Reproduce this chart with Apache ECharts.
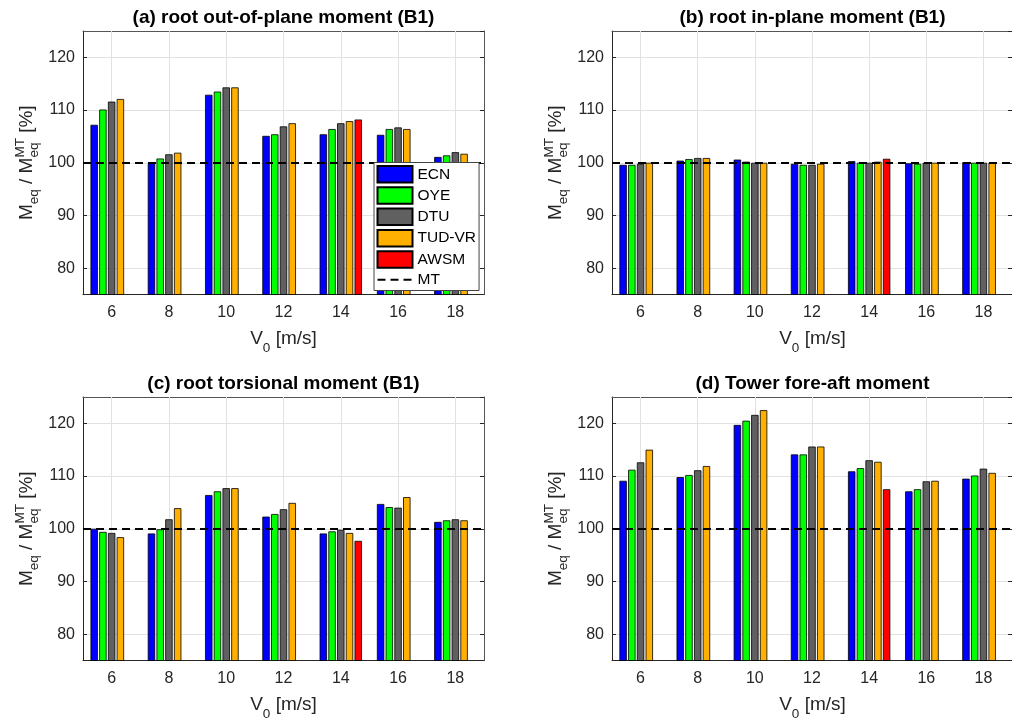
<!DOCTYPE html>
<html>
<head>
<meta charset="utf-8">
<script src="https://cdn.jsdelivr.net/npm/echarts@6/dist/echarts.min.js"></script>
<style>
html,body{margin:0;padding:0;background:#fff;}
#chart{width:1012px;height:724px;}
</style>
</head>
<body>
<div id="chart"></div>
<script>
// ---------- data ----------
const categories = ['6', '8', '10', '12', '14', '16', '18'];
const seriesNames = ['ECN', 'OYE', 'DTU', 'TUD-VR', 'AWSM'];
const refName = 'MT';
const refValue = 100;
const panelTitles = [
  '(a) root out-of-plane moment (B1)',
  '(b) root in-plane moment (B1)',
  '(c) root torsional moment (B1)',
  '(d) Tower fore-aft moment'
];

// (a) root out-of-plane moment
const oop_ECN  = [107.2, 99.9, 112.9, 105.1, 105.4, 105.3, 101.1];
const oop_OYE  = [110.1, 100.8, 113.5, 105.4, 106.4, 106.4, 101.4];
const oop_DTU  = [111.6, 101.6, 114.3, 106.9, 107.5, 106.7, 102.0];
const oop_TUD  = [112.1, 101.9, 114.3, 107.5, 107.9, 106.4, 101.7];
const oop_AWSM = [null, null, null, null, 108.2, null, null];

// (b) root in-plane moment
const ip_ECN  = [99.6, 100.4, 100.6, 99.8, 100.3, 99.9, 100.1];
const ip_OYE  = [99.6, 100.7, 100.2, 99.6, 100.0, 99.8, 100.0];
const ip_DTU  = [99.8, 100.9, 100.0, 99.6, 100.0, 100.0, 100.0];
const ip_TUD  = [100.0, 100.9, 100.0, 99.8, 100.2, 100.0, 100.0];
const ip_AWSM = [null, null, null, null, 100.75, null, null];

// (c) root torsional moment
const tor_ECN  = [100.0, 99.1, 106.4, 102.3, 99.1, 104.7, 101.3];
const tor_OYE  = [99.4, 99.9, 107.1, 102.8, 99.5, 104.1, 101.6];
const tor_DTU  = [99.2, 101.8, 107.7, 103.7, 99.8, 104.0, 101.8];
const tor_TUD  = [98.4, 103.9, 107.7, 104.9, 99.2, 106.0, 101.6];
const tor_AWSM = [null, null, null, null, 97.7, null, null];

// (d) tower fore-aft moment
const tfa_ECN  = [109.1, 109.8, 119.7, 114.1, 110.9, 107.1, 109.5];
const tfa_OYE  = [111.2, 110.2, 120.5, 114.1, 111.5, 107.5, 110.1];
const tfa_DTU  = [112.6, 111.1, 121.6, 115.6, 113.0, 109.0, 111.4];
const tfa_TUD  = [115.0, 111.9, 122.5, 115.6, 112.7, 109.1, 110.6];
const tfa_AWSM = [null, null, null, null, 107.5, null, null];

const panelData = [
  [oop_ECN, oop_OYE, oop_DTU, oop_TUD, oop_AWSM],
  [ip_ECN, ip_OYE, ip_DTU, ip_TUD, ip_AWSM],
  [tor_ECN, tor_OYE, tor_DTU, tor_TUD, tor_AWSM],
  [tfa_ECN, tfa_OYE, tfa_DTU, tfa_TUD, tfa_AWSM]
];

// ---------- style / layout ----------
const FONT = '"Liberation Sans", Arial, Helvetica, sans-serif';
const colors = ['#0000FF', '#00FF00', '#606060', '#FFB000', '#FF0000'];
const axisColor = '#262626';
const gridColor = '#e2e2e2';
const grids = [
  { left: 83,  top: 31,  width: 401, height: 263.5 },
  { left: 612, top: 31,  width: 401, height: 263.5 },
  { left: 83,  top: 397, width: 401, height: 263.5 },
  { left: 612, top: 397, width: 401, height: 263.5 }
];

const mctx = document.createElement('canvas').getContext('2d');
function measure(t, fs) { mctx.font = fs + 'px ' + FONT; return mctx.measureText(t).width; }

function buildLabel(parts, gx, gy, rotation) {
  const pieces = [];
  let x = 0;
  parts.forEach(p => {
    if (p.stack) {
      let w = 0;
      p.stack.forEach(s => { pieces.push({ t: s.t, fs: s.fs, dy: s.dy || 0, x }); w = Math.max(w, measure(s.t, s.fs)); });
      x += w;
    } else {
      pieces.push({ t: p.t, fs: p.fs, dy: p.dy || 0, x });
      x += measure(p.t, p.fs);
    }
  });
  const total = x;
  return {
    type: 'group', x: gx, y: gy, rotation: rotation, silent: true,
    children: pieces.map(pc => ({
      type: 'text',
      x: pc.x - total / 2,
      y: pc.dy - 0.35 * pc.fs,
      style: { text: pc.t, font: pc.fs + 'px ' + FONT, fill: axisColor, align: 'left', verticalAlign: 'middle' }
    }))
  };
}

const LF = 19, SF = 13.5;
const xLabelParts = [{ t: 'V', fs: LF }, { t: '0', fs: SF, dy: 7.5 }, { t: ' [m/s]', fs: LF }];
const yLabelParts = [
  { t: 'M', fs: LF }, { t: 'eq', fs: SF, dy: 6 }, { t: ' / M', fs: LF },
  { stack: [{ t: 'eq', fs: SF, dy: 6 }, { t: 'MT', fs: SF, dy: -8 }] },
  { t: ' [%]', fs: LF }
];

const option = {
  animation: false,
  backgroundColor: '#ffffff',
  textStyle: { fontFamily: FONT },
  title: [], grid: grids, xAxis: [], yAxis: [], series: [], graphic: []
};

grids.forEach((g, p) => {
  const cx = g.left + g.width / 2;
  option.title.push({
    text: panelTitles[p], left: cx, top: g.top - 23, textAlign: 'center', padding: 0,
    textStyle: { fontSize: 19, fontWeight: 'bold', color: '#000', fontFamily: FONT }
  });
  const tickStyle = { show: true, inside: true, length: 4, lineStyle: { color: axisColor, width: 1 } };
  option.xAxis.push({
    type: 'category', gridIndex: p, data: categories, position: 'bottom',
    axisLine: { show: true, lineStyle: { color: axisColor, width: 1 } },
    axisTick: Object.assign({ alignWithLabel: true }, tickStyle),
    axisLabel: { fontSize: 16, color: axisColor, margin: 10, fontFamily: FONT },
    splitLine: { show: false }
  });
  option.xAxis.push({
    type: 'category', gridIndex: p, data: categories, position: 'top',
    axisLine: { show: true, lineStyle: { color: '#555', width: 1 } },
    axisTick: Object.assign({ alignWithLabel: true }, tickStyle),
    axisLabel: { show: false }, splitLine: { show: false }
  });
  const yCommon = { type: 'value', gridIndex: p, min: 75, max: 125, splitNumber: 5 };
  option.yAxis.push(Object.assign({}, yCommon, {
    position: 'left',
    axisLine: { show: true, lineStyle: { color: axisColor, width: 1 } },
    axisTick: tickStyle,
    axisLabel: {
      fontSize: 16, color: axisColor, margin: 8, fontFamily: FONT,
      showMinLabel: false, showMaxLabel: false,
      formatter: v => (v % 10 === 0 ? String(v) : '')
    },
    splitLine: { show: true, lineStyle: { color: gridColor, width: 1 } }
  }));
  option.yAxis.push(Object.assign({}, yCommon, {
    position: 'right',
    axisLine: { show: true, lineStyle: { color: '#555', width: 1 } },
    axisTick: tickStyle,
    axisLabel: { show: false }, splitLine: { show: false }
  }));

  // vertical grid lines at category centres
  option.series.push({
    type: 'line', name: '_grid', xAxisIndex: 2 * p, yAxisIndex: 2 * p, z: 1,
    data: categories.map(() => null), symbol: 'none', silent: true,
    markLine: {
      silent: true, symbol: 'none', z: 1, animation: false,
      label: { show: false },
      lineStyle: { color: gridColor, width: 1, type: 'solid' },
      emphasis: { disabled: true },
      data: categories.map(c => ({ xAxis: c }))
    }
  });

  panelData[p].forEach((vals, i) => {
    option.series.push({
      type: 'bar', name: seriesNames[i], xAxisIndex: 2 * p, yAxisIndex: 2 * p,
      data: vals, barWidth: 7.4, barGap: '18%', z: 2, silent: true,
      itemStyle: { color: colors[i], borderColor: '#000', borderWidth: 0.8 }
    });
  });

  option.series.push({
    type: 'line', name: refName, xAxisIndex: 2 * p, yAxisIndex: 2 * p, z: 5,
    data: categories.map(() => null), symbol: 'none', silent: true,
    lineStyle: { color: '#000', width: 2, type: [8, 5] },
    itemStyle: { color: '#000' },
    markLine: {
      silent: true, symbol: 'none', z: 5, animation: false,
      label: { show: false },
      lineStyle: { color: '#000', width: 2, type: [8, 5] },
      emphasis: { disabled: true },
      data: [{ yAxis: refValue }]
    }
  });

  option.graphic.push(buildLabel(xLabelParts, cx, g.top + g.height + 51, 0));
  option.graphic.push(buildLabel(yLabelParts, g.left - 50, g.top + g.height / 2, Math.PI / 2));
});

// dashed-line legend icon (box 35 x 16.5 kept by tiny corner marks)
const dashIcon = 'path://M0,0L0.01,0L0.01,0.01Z M35,16.5L34.99,16.5L34.99,16.49Z ' +
  'M0,7.25H8V9.25H0Z M13,7.25H21V9.25H13Z M26,7.25H34V9.25H26Z';

option.legend = {
  data: seriesNames.map(n => ({ name: n, icon: 'rect' })).concat([{ name: refName, icon: dashIcon, itemStyle: { color: '#000', borderWidth: 0 } }]),
  orient: 'vertical', left: 374, top: 162.5,
  padding: [2.5, 3, 2.5, 2.5],
  itemWidth: 35, itemHeight: 16.5, itemGap: 2.8,
  backgroundColor: '#ffffff', borderColor: '#444', borderWidth: 1, borderRadius: 0,
  textStyle: { fontSize: 15.5, color: '#000', fontFamily: FONT },
  selectedMode: false, z: 10
};

const chart = echarts.init(document.getElementById('chart'), null, { renderer: 'canvas' });
chart.setOption(option);
</script>
</body>
</html>
